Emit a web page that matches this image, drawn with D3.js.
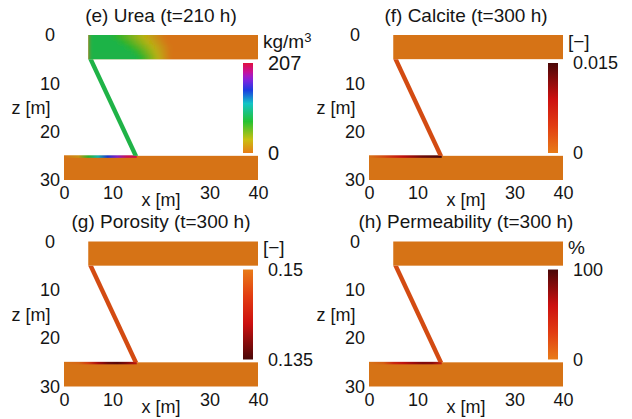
<!DOCTYPE html>
<html>
<head>
<meta charset="utf-8">
<script src="https://cdn.jsdelivr.net/npm/d3@7"></script>
<style>
  html, body { margin: 0; padding: 0; background: #fff; }
  svg text { font-family: 'Liberation Sans', Arial, Helvetica, sans-serif; fill: #151515; }
</style>
</head>
<body>
<div class="fault-panels"></div>
<script>
// panels
var panelTitles = ['(e) Urea (t=210 h)', '(f) Calcite (t=300 h)', '(g) Porosity (t=300 h)', '(h) Permeability (t=300 h)']
var panelUnits = ['kg/m', '[\u2212]', '[\u2212]', '%']
var unitSup = ['3', '', '', '']
var colorbarMin = [0, 0, 0.135, 0]
var colorbarMax = [207, 0.015, 0.15, 100]
var colorbarMinLabels = ['0', '0', '0.135', '0']
var colorbarMaxLabels = ['207', '0.015', '0.15', '100']
var panelCmap = ['rainbow', 'hot', 'hotReversed', 'hot']

// tick labels
var xTicks = [0, 10, 30, 40]
var zTicks = [0, 10, 20, 30]

// geometry in metres: upper aquifer, lower aquifer, fault
var layerX0 = [5, 0]
var layerX1 = [40, 40]
var layerZ0 = [0, 25]
var layerZ1 = [5, 30]
var faultX = [5, 14.3]
var faultZ = [5, 25]
var faultWidth = 1.0

// field values
var layerValues = [0, 0, 0.15, 0]
var faultValues = [80, 0.003, 0.147, 20]
var streakX = [0, 3, 5, 7, 9, 11, 13, 15]
var streakValues = [
  [0, 15, 70, 110, 145, 172, 200, 205],
  [0, 0.003, 0.006, 0.009, 0.011, 0.013, 0.014, 0.015],
  [0.15, 0.149, 0.146, 0.14, 0.137, 0.136, 0.138, 0.142],
  [0, 10, 40, 55, 70, 80, 78, 45]
]

// urea plume in upper aquifer (rows of 1 m)
var ureaPlumeValue = 80
var ureaRowZ = [0, 1, 2, 3, 4]
var ureaFrontStart = [9.5, 11, 12.5, 14, 15]
var ureaFrontEnd = [21, 21.5, 22, 22, 22]

// colormaps
var rainbowStops = [0, 0.15, 0.35, 0.55, 0.7, 0.82, 0.9, 1]
var rainbowColors = ['#e87c18', '#c8c012', '#24c232', '#12c4c6', '#1c3ce0', '#8a22e0', '#c8129a', '#e0103e']
var hotStops = [0, 0.3, 0.6, 1]
var hotColors = ['#e87c18', '#e23c12', '#cc1010', '#4a0808']

var width = 632
var height = 419
var cols = [64, 369]
var rows = [35, 241.5]
var plotW = 194
var plotH = 145

var svg = d3.select('.fault-panels')
  .append('svg')
  .attr('width', width)
  .attr('height', height)

var defs = svg.append('defs')

function makeCmap (i) {
  var lo = colorbarMin[i]
  var hi = colorbarMax[i]
  var stops = panelCmap[i] === 'rainbow' ? rainbowStops : hotStops
  var colors = panelCmap[i] === 'rainbow' ? rainbowColors : hotColors
  var dom = stops.map(function (f) {
    return panelCmap[i] === 'hotReversed' ? hi - f * (hi - lo) : lo + f * (hi - lo)
  })
  return d3.scaleLinear().domain(dom).range(colors).clamp(true)
}

function shade (c) {
  return d3.color(c).darker(0.22).formatHex()
}

panelTitles.forEach(function (title, i) {
  var x0 = cols[i % 2]
  var y0 = rows[Math.floor(i / 2)]
  var x = d3.scaleLinear().domain([0, 40]).range([x0, x0 + plotW])
  var z = d3.scaleLinear().domain([0, 30]).range([y0, y0 + plotH])
  var cmap = makeCmap(i)
  var g = svg.append('g').attr('class', 'panel-' + i)

  // aquifers
  g.selectAll('.layer')
    .data(layerX0)
    .enter()
    .append('rect')
    .attr('class', 'layer')
    .attr('x', function (d, j) { return x(layerX0[j]) })
    .attr('y', function (d, j) { return z(layerZ0[j]) })
    .attr('width', function (d, j) { return x(layerX1[j]) - x(layerX0[j]) })
    .attr('height', function (d, j) { return z(layerZ1[j]) - z(layerZ0[j]) })
    .attr('fill', shade(cmap(layerValues[i])))

  // urea plume entering the upper aquifer
  if (i === 0) {
    var span = layerX1[0] - layerX0[0]
    defs.append('clipPath')
      .attr('id', 'clip-top')
      .append('rect')
      .attr('x', x(layerX0[0]))
      .attr('y', z(layerZ0[0]))
      .attr('width', x(layerX1[0]) - x(layerX0[0]))
      .attr('height', z(layerZ1[0]) - z(layerZ0[0]))
    defs.append('filter')
      .attr('id', 'soft')
      .attr('x', '-10%').attr('y', '-50%').attr('width', '120%').attr('height', '200%')
      .append('feGaussianBlur')
      .attr('stdDeviation', '2.2 1.6')

    ureaRowZ.forEach(function (rz, r) {
      var grad = defs.append('linearGradient')
        .attr('id', 'urea-row-' + r)
        .attr('x1', 0).attr('x2', 1).attr('y1', 0).attr('y2', 0)
      var a = (ureaFrontStart[r] - layerX0[0]) / span
      var b = (ureaFrontEnd[r] - layerX0[0]) / span
      grad.append('stop').attr('offset', 0).attr('stop-color', shade(cmap(ureaPlumeValue)))
      d3.range(0, 1.01, 0.125).forEach(function (t) {
        grad.append('stop')
          .attr('offset', a + t * (b - a))
          .attr('stop-color', shade(cmap(ureaPlumeValue * (1 - t))))
      })
      grad.append('stop').attr('offset', 1).attr('stop-color', shade(cmap(0)))
    })

    var plume = g.append('g').attr('clip-path', 'url(#clip-top)')
      .append('g').attr('filter', 'url(#soft)')
    plume.selectAll('rect')
      .data(ureaRowZ)
      .enter()
      .append('rect')
      .attr('x', x(layerX0[0]))
      .attr('y', function (d, r) { return r === 0 ? z(d) - 6 : z(d) })
      .attr('width', x(layerX1[0]) - x(layerX0[0]))
      .attr('height', function (d, r) {
        var h = z(d + 1) - z(d) + 0.5
        return (r === 0 || r === ureaRowZ.length - 1) ? h + 6 : h
      })
      .attr('fill', function (d, r) { return 'url(#urea-row-' + r + ')' })
  }

  // streak along the top of the lower aquifer
  var sg = defs.append('linearGradient')
    .attr('id', 'streak-' + i)
    .attr('x1', 0).attr('x2', 1).attr('y1', 0).attr('y2', 0)
  sg.selectAll('stop')
    .data(streakX)
    .enter()
    .append('stop')
    .attr('offset', function (d) { return (d - streakX[0]) / (streakX[streakX.length - 1] - streakX[0]) })
    .attr('stop-color', function (d, j) { return shade(cmap(streakValues[i][j])) })
  g.append('rect')
    .attr('x', x(streakX[0]))
    .attr('y', z(layerZ0[1]) - 0.5)
    .attr('width', x(streakX[streakX.length - 1]) - x(streakX[0]))
    .attr('height', 2.5)
    .attr('fill', 'url(#streak-' + i + ')')

  // fault
  var line = d3.line()
    .x(function (d) { return x(d[0]) })
    .y(function (d) { return z(d[1]) })
  var faultPts = [
    [faultX[0], faultZ[0]],
    [faultX[0] + faultWidth, faultZ[0]],
    [faultX[1] + faultWidth, faultZ[1]],
    [faultX[1], faultZ[1]]
  ]
  g.append('path')
    .attr('d', line(faultPts) + 'Z')
    .attr('fill', shade(cmap(faultValues[i])))

  // colorbar
  var cg = defs.append('linearGradient')
    .attr('id', 'cbar-' + i)
    .attr('x1', 0).attr('x2', 0).attr('y1', 0).attr('y2', 1)
  cg.selectAll('stop')
    .data(d3.range(0, 1.001, 0.05))
    .enter()
    .append('stop')
    .attr('offset', function (d) { return d })
    .attr('stop-color', function (d) {
      return cmap(colorbarMax[i] - d * (colorbarMax[i] - colorbarMin[i]))
    })
  g.append('rect')
    .attr('x', x0 + 179)
    .attr('y', y0 + 28)
    .attr('width', 10)
    .attr('height', 90)
    .attr('fill', 'url(#cbar-' + i + ')')

  var unit = g.append('text')
    .attr('x', x0 + 199)
    .attr('y', y0 + 6)
    .attr('dy', '0.35em')
    .style('font-size', '19px')
    .text(panelUnits[i])
  if (unitSup[i]) {
    unit.append('tspan')
      .attr('dy', '-0.45em')
      .style('font-size', '13px')
      .text(unitSup[i])
  }
  g.selectAll('.cbar-label')
    .data([colorbarMaxLabels[i], colorbarMinLabels[i]])
    .enter()
    .append('text')
    .attr('class', 'cbar-label')
    .attr('x', x0 + 204)
    .attr('y', function (d, j) { return y0 + (j === 0 ? 28 : 118) })
    .attr('dy', '0.35em')
    .style('font-size', i === 0 ? '20px' : '18px')
    .text(function (d) { return d })

  // axes (labels only)
  var ax = g.append('g')
    .attr('transform', 'translate(0,' + (y0 + plotH) + ')')
    .call(d3.axisBottom(x).tickValues(xTicks).tickSize(0).tickFormat(d3.format('d')))
  ax.select('.domain').remove()
  ax.selectAll('text')
    .attr('y', 13)
    .attr('dy', '0.35em')
    .style('font-size', '18px')
    .style('font-family', null)

  var az = g.append('g')
    .attr('transform', 'translate(' + x0 + ',0)')
    .call(d3.axisLeft(z).tickValues(zTicks).tickSize(0).tickFormat(d3.format('d')))
  az.select('.domain').remove()
  az.selectAll('text')
    .attr('x', -14)
    .attr('text-anchor', 'middle')
    .style('font-size', '18px')
    .style('font-family', null)
  ax.attr('font-family', null).attr('font-size', null)
  az.attr('font-family', null).attr('font-size', null)

  g.append('text')
    .attr('x', x0 + 97)
    .attr('y', y0 + plotH + 20)
    .attr('dy', '0.35em')
    .attr('text-anchor', 'middle')
    .style('font-size', '18px')
    .text('x [m]')

  g.append('text')
    .attr('x', x0 - 33)
    .attr('y', y0 + 73)
    .attr('dy', '0.35em')
    .attr('text-anchor', 'middle')
    .style('font-size', '18px')
    .text('z [m]')

  g.append('text')
    .attr('x', x0 + 97)
    .attr('y', y0 - 20)
    .attr('dy', '0.35em')
    .attr('text-anchor', 'middle')
    .style('font-size', '19px')
    .text(title)
})
</script>
</body>
</html>
